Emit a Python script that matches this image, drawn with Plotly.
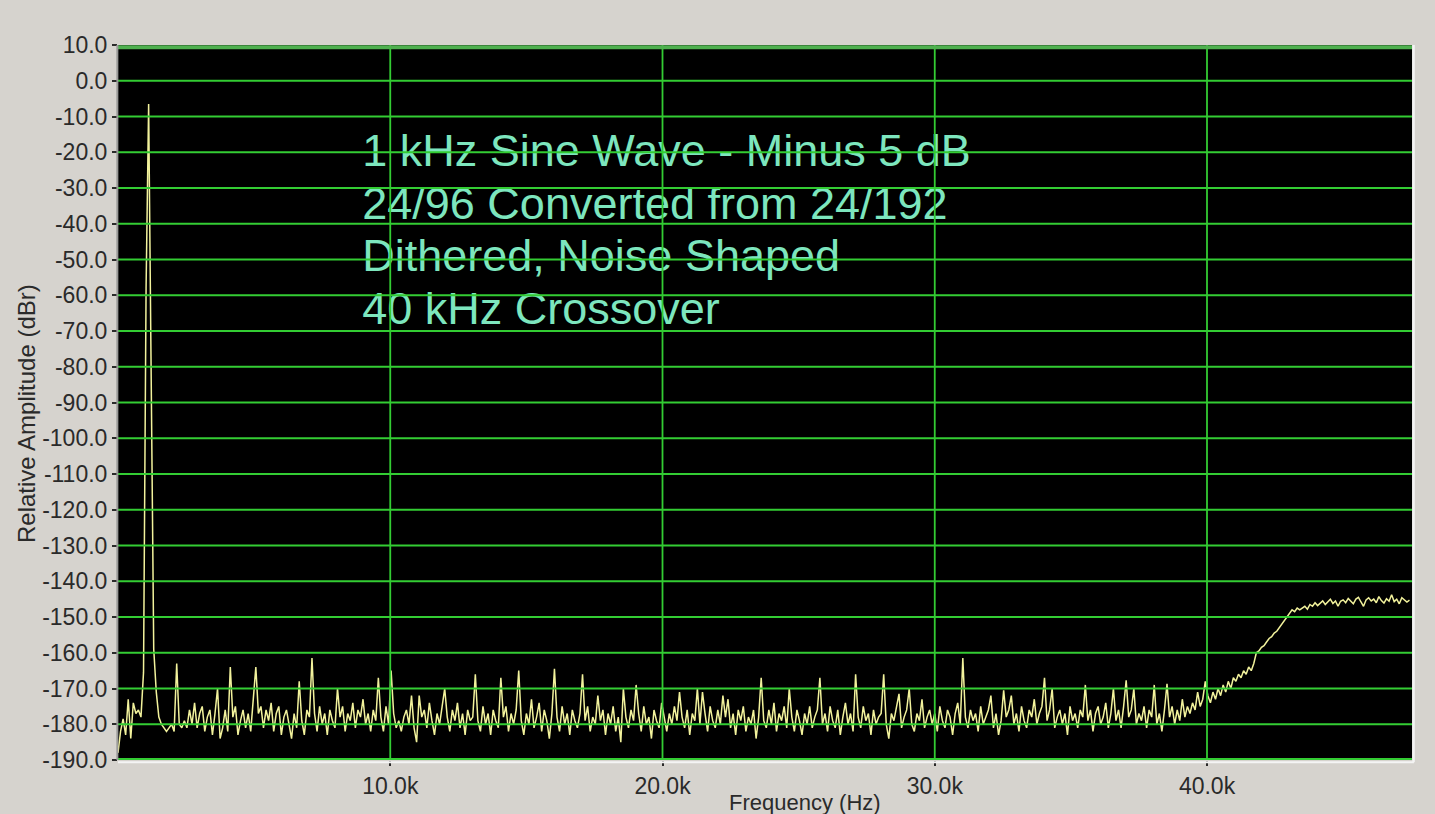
import plotly.graph_objects as go

# FFT bin spacing of the analyser (Hz) and measured level per bin (dBr)
BIN_HZ = 93.75
amplitude_dbr = [
    # bins 0-19
    -188, -182, -178.5, -183, -173, -184, -174, -177, -176, -178,
    -165.5, -58, -6.5, -78, -159, -171, -178, -180, -181, -182,
    # bins 20-39
    -181, -180, -182, -163, -180, -181, -179, -181, -176, -180,
    -174, -181, -177, -175, -182, -178, -176, -183, -177, -170,
    # bins 40-59
    -184, -181, -176, -182, -164, -178, -175, -183, -179, -176,
    -181, -177, -182, -174, -164, -177, -175, -181, -176, -179,
    # bins 60-79
    -174, -182, -177, -175, -183, -178, -176, -180, -184, -177,
    -181, -168, -179, -183, -176, -178, -161.5, -177, -182, -175,
    # bins 80-99
    -180, -177, -183, -176, -179, -181, -170, -178, -175, -182,
    -177, -179, -174, -181, -176, -178, -173, -180, -177, -182,
    # bins 100-119
    -176, -179, -167, -178, -182, -175, -180, -165, -177, -181,
    -179, -182, -178, -176, -180, -172, -181, -185, -172, -178,
    # bins 120-139
    -176, -181, -174, -179, -183, -177, -180, -175, -170, -178,
    -182, -176, -179, -174, -181, -177, -183, -176, -179, -178,
    # bins 140-159
    -166, -179, -182, -175, -180, -177, -183, -176, -179, -181,
    -167, -178, -175, -182, -177, -180, -176, -165, -179, -183,
    # bins 160-179
    -177, -180, -173, -181, -178, -174, -182, -176, -179, -184,
    -177, -164.5, -178, -182, -175, -180, -177, -183, -176, -179,
    # bins 180-199
    -181, -177, -166, -179, -175, -182, -178, -180, -172, -179,
    -176, -183, -177, -180, -175, -182, -178, -185, -170, -178,
    # bins 200-219
    -181, -176, -179, -169, -177, -182, -175, -180, -178, -184,
    -176, -179, -181, -174, -178, -182, -177, -180, -175, -179,
    # bins 220-239
    -171, -178, -181, -176, -183, -177, -179, -170, -180, -171,
    -177, -182, -175, -179, -181, -176, -180, -172, -178, -173,
    # bins 240-259
    -181, -177, -183, -176, -179, -175, -182, -178, -180, -176,
    -184, -178, -167, -179, -181, -176, -180, -174, -182, -177,
    # bins 260-279
    -179, -175, -181, -170, -178, -182, -176, -179, -183, -177,
    -180, -175, -181, -178, -176, -167, -180, -177, -182, -175,
    # bins 280-299
    -179, -181, -176, -183, -178, -174, -180, -177, -182, -166,
    -178, -181, -175, -179, -177, -183, -176, -180, -178, -177,
    # bins 300-319
    -166, -180, -184, -177, -179, -175, -171.5, -181, -178, -176,
    -170, -180, -182, -177, -179, -173, -181, -178, -176, -180,
    # bins 320-339
    -177, -182, -175, -179, -181, -176, -178, -183, -177, -174,
    -180, -161.5, -178, -181, -176, -179, -177, -182, -175, -180,
    # bins 340-359
    -178, -176, -172, -181, -177, -183, -179, -170.5, -178, -176,
    -172, -180, -177, -182, -175, -179, -181, -176, -178, -173,
    # bins 360-379
    -180, -177, -175, -167, -179, -176, -170, -181, -178, -176,
    -180, -177, -183, -175, -179, -177, -181, -176, -178, -169,
    # bins 380-399
    -179, -176, -182, -177, -175, -180, -178, -174, -181, -177,
    -170, -179, -176, -181, -175, -167.7, -178, -176, -170, -180,
    # bins 400-419
    -177, -179, -175, -181, -176, -178, -169, -180, -177, -182,
    -176, -168.7, -178, -175, -180, -176, -179, -173, -178, -175,
    # bins 420-439
    -177, -174, -176, -171, -175, -173, -168, -172, -174, -171,
    -173, -170, -172, -169, -171, -168, -170, -167, -168, -166,
    # bins 440-459
    -167, -165, -166, -164, -165, -163, -160, -159.5, -158.5, -158,
    -157, -156, -155.5, -154.5, -154, -153, -152, -151, -150, -149,
    # bins 460-479
    -148, -148.5, -147.5, -148, -147.5, -147, -147.8, -146.5, -147, -146,
    -146.8, -146, -145.5, -146.5, -145.8, -145, -146.2, -145.5, -147, -145.6,
    # bins 480-499
    -145.2, -146, -144.8, -145.7, -146.3, -145, -144.5, -145.8, -147, -145.2,
    -144.6, -145.5, -145, -146, -144.3, -145.4, -146.1, -144.9, -145.6, -143.8,
    # bins 500-506
    -145.7, -145, -146.3, -144.6, -145.2, -145.8, -145.3,
]
freq_hz = [i * BIN_HZ for i in range(len(amplitude_dbr))]

# axes
x_range = [0, 47530]
y_range = [-190, 10]
y_tick_vals = list(range(10, -200, -10))
y_tick_text = [f"{v:.1f}" for v in y_tick_vals]  # plain hyphen-minus labels
x_tick_vals = [10000, 20000, 30000, 40000]
x_tick_text = ["10.0k", "20.0k", "30.0k", "40.0k"]
grid_db = list(range(0, -190, -10))
grid_hz = x_tick_vals

# caption block inside the plot
caption_lines = [
    "1 kHz Sine Wave - Minus 5 dB",
    "24/96 Converted from 24/192",
    "Dithered, Noise Shaped",
    "40 kHz Crossover",
]
caption_db = [-20.6, -35.4, -50.2, -65.0]
caption_hz = 8972

PANEL_BG = "#d6d3ce"
GRID_GREEN = "#33cc33"
TRACE_YELLOW = "#f2f29c"
CAPTION_CYAN = "#7de6be"
LABEL_COLOR = "#2a2a2a"
FONT = "Liberation Sans, Arial, sans-serif"

fig = go.Figure()

fig.add_trace(go.Scatter(
    x=[caption_hz] * len(caption_lines),
    y=caption_db,
    mode="text",
    text=caption_lines,
    textposition="middle right",
    textfont=dict(family=FONT, size=45, color=CAPTION_CYAN),
    hoverinfo="skip",
    showlegend=False,
))

fig.add_trace(go.Scatter(
    x=freq_hz,
    y=amplitude_dbr,
    mode="lines",
    line=dict(color=TRACE_YELLOW, width=1.5),
    hoverinfo="x+y",
    showlegend=False,
))

shapes = []
# grid drawn over the caption text and trace
for v in grid_db:
    shapes.append(dict(type="line", xref="x", yref="y", x0=x_range[0], x1=x_range[1],
                       y0=v, y1=v, layer="above",
                       line=dict(color=GRID_GREEN, width=1.8)))
for f in grid_hz:
    shapes.append(dict(type="line", xref="x", yref="y", x0=f, x1=f,
                       y0=y_range[0], y1=y_range[1], layer="above",
                       line=dict(color=GRID_GREEN, width=1.8)))
# frame: green top/bottom edges, light right/bottom bevel, grey left bevel
shapes.append(dict(type="line", xref="paper", yref="paper", x0=0, x1=1, y0=0.997, y1=0.997,
                   layer="above", line=dict(color="#4fb04f", width=4)))
shapes.append(dict(type="line", xref="paper", yref="paper", x0=0, x1=1, y0=0.0015, y1=0.0015,
                   layer="above", line=dict(color=GRID_GREEN, width=2)))
shapes.append(dict(type="line", xref="paper", yref="paper", x0=0, x1=1.0015, y0=-0.003, y1=-0.003,
                   layer="above", line=dict(color="#f4f4f4", width=2)))
shapes.append(dict(type="line", xref="paper", yref="paper", x0=1.0012, x1=1.0012, y0=-0.003, y1=1.0,
                   layer="above", line=dict(color="#f4f4f4", width=2.5)))
shapes.append(dict(type="line", xref="paper", yref="paper", x0=-0.0005, x1=-0.0005, y0=0, y1=1,
                   layer="above", line=dict(color="#9a9a98", width=2)))

fig.update_layout(
    width=1435,
    height=814,
    margin=dict(l=118, r=23, t=45, b=54),
    paper_bgcolor=PANEL_BG,
    plot_bgcolor="#000000",
    font=dict(family=FONT, size=23, color=LABEL_COLOR),
    shapes=shapes,
    showlegend=False,
    xaxis=dict(
        range=x_range,
        tickvals=x_tick_vals,
        ticktext=x_tick_text,
        showgrid=False,
        zeroline=False,
        ticks="outside",
        ticklen=5,
        tickwidth=1.5,
        tickcolor=LABEL_COLOR,
        tickfont=dict(family=FONT, size=23, color=LABEL_COLOR),
        showline=False,
    ),
    yaxis=dict(
        range=y_range,
        tickvals=y_tick_vals,
        ticktext=y_tick_text,
        showgrid=False,
        zeroline=False,
        ticks="outside",
        ticklen=5,
        tickwidth=1.5,
        tickcolor=LABEL_COLOR,
        tickfont=dict(family=FONT, size=23, color=LABEL_COLOR),
        showline=False,
    ),
    annotations=[
        dict(text="Frequency (Hz)", xref="paper", yref="paper",
             x=(805 - 118) / 1294, y=-42 / 715, xanchor="center", yanchor="middle",
             showarrow=False, font=dict(family=FONT, size=22, color=LABEL_COLOR)),
        dict(text="Relative Amplitude (dBr)", xref="paper", yref="paper",
             x=(26 - 118) / 1294, y=(760 - 414) / 715, xanchor="center", yanchor="middle",
             textangle=-90, showarrow=False,
             font=dict(family=FONT, size=24, color=LABEL_COLOR)),
    ],
)

fig.write_html("out.html")
